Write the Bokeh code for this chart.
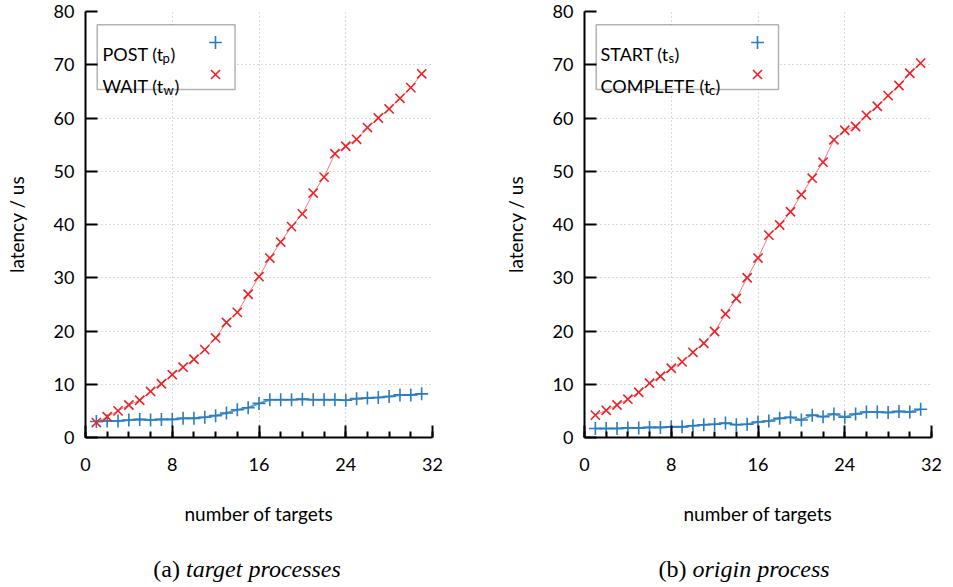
from bokeh.plotting import figure
from bokeh.layouts import row, column
from bokeh.models import (FixedTicker, Label, BoxAnnotation, Legend, LegendItem,
                          Range1d, ColumnDataSource)
from bokeh.embed import file_html
from bokeh.resources import INLINE

# ---------------- data ----------------
targets = list(range(1, 32))

post_tp = [3.0, 3.1, 3.1, 3.3, 3.4, 3.3, 3.4, 3.4, 3.6, 3.6, 3.8, 4.1, 4.6, 5.2, 5.6,
           6.4, 7.1, 7.1, 7.1, 7.2, 7.1, 7.1, 7.1, 7.0, 7.3, 7.4, 7.5, 7.7, 8.0, 8.0, 8.2]
wait_tw = [2.8, 3.9, 5.0, 6.1, 7.0, 8.65, 10.1, 11.8, 13.2, 14.7, 16.5, 18.7, 21.6, 23.5, 26.9,
           30.2, 33.7, 36.7, 39.6, 42.0, 45.9, 48.9, 53.3, 54.7, 56.0, 58.2, 60.0, 61.7, 63.7, 65.7, 68.3]

start_ts = [1.7, 1.7, 1.7, 1.8, 1.8, 1.9, 1.9, 2.0, 2.0, 2.2, 2.4, 2.5, 2.7, 2.4, 2.5,
            2.9, 3.1, 3.6, 3.8, 3.3, 4.2, 3.9, 4.4, 3.8, 4.4, 4.8, 4.8, 4.7, 4.9, 4.8, 5.3]
complete_tc = [4.2, 5.1, 6.1, 7.2, 8.5, 10.2, 11.5, 13.0, 14.2, 16.0, 17.7, 19.9, 23.2, 26.1, 30.0,
               33.7, 38.0, 39.9, 42.4, 45.6, 48.7, 51.7, 55.9, 57.7, 58.4, 60.5, 62.2, 64.2, 66.1, 68.4, 70.3]

x_major = [0, 8, 16, 24, 32]
x_minor = [v for v in range(0, 33, 2)]
y_major = [0, 10, 20, 30, 40, 50, 60, 70, 80]

x_label = "number of targets"
y_label = "latency / us"

BLUE = "#2a7cbf"
RED = "#ec2227"
SANS = "Lato"
SERIF = "Liberation Serif"


def make_panel(s1, s2, names, subs, min_left, min_right,
               name_x, sub_x, close_x, key_x, box_right):
    p = figure(frame_width=347, frame_height=426,
               x_range=Range1d(0, 32), y_range=Range1d(0, 80),
               min_border_left=min_left, min_border_right=min_right,
               min_border_top=11, min_border_bottom=100,
               output_backend="svg", toolbar_location=None)
    p.outline_line_color = None
    p.background_fill_color = "white"
    p.border_fill_color = "white"

    src = ColumnDataSource(dict(x=targets, a=s1, b=s2))

    # grid
    p.xgrid.ticker = FixedTicker(ticks=x_major)
    p.ygrid.ticker = FixedTicker(ticks=y_major)
    for g in (p.xgrid, p.ygrid):
        g.grid_line_color = "#b4b4b4"
        g.grid_line_dash = "1 3"
        g.grid_line_width = 1

    # axes
    p.xaxis.ticker = FixedTicker(ticks=x_major, minor_ticks=x_minor)
    p.yaxis.ticker = FixedTicker(ticks=y_major)
    for ax in (p.xaxis[0], p.yaxis[0]):
        ax.axis_line_width = 2
        ax.axis_line_color = "black"
        ax.major_tick_in = 12
        ax.major_tick_out = 0
        ax.major_tick_line_width = 2
        ax.minor_tick_in = 6
        ax.minor_tick_out = 0
        ax.minor_tick_line_width = 2
        ax.major_label_text_font = SANS
        ax.major_label_text_font_size = "18px"
        ax.major_label_text_color = "black"
        ax.axis_label_text_font = SANS
        ax.axis_label_text_font_size = "19px"
        ax.axis_label_text_font_style = "normal"
        ax.axis_label_text_color = "black"
    p.yaxis.minor_tick_line_color = None
    p.xaxis.major_label_standoff = 20
    p.yaxis.major_label_standoff = 11
    p.xaxis.axis_label = x_label
    p.yaxis.axis_label = y_label
    p.xaxis.axis_label_standoff = 28
    p.yaxis.axis_label_standoff = 23

    # series
    p.line("x", "a", source=src, line_color=BLUE, line_width=2, line_alpha=0.75)
    r1 = p.scatter("x", "a", source=src, marker="cross", size=13,
                   line_color=BLUE, line_width=1.6)
    p.line("x", "b", source=src, line_color=RED, line_width=1, line_alpha=0.6)
    r2 = p.scatter("x", "b", source=src, marker="x", size=13,
                   line_color=RED, line_width=1.6)

    # legend box (white, framed)
    box = BoxAnnotation(left=1.08, right=box_right, top=77.5, bottom=65.36,
                        fill_color="white", fill_alpha=1.0,
                        line_color="black", line_width=1.5, level="underlay")
    p.add_layout(box)

    leg = Legend(items=[LegendItem(label=" ", renderers=[r1]),
                        LegendItem(label=" ", renderers=[r2])],
                 location=(key_x - 16, 347),
                 padding=0, margin=0, spacing=0,
                 glyph_width=32, glyph_height=32, label_height=32,
                 label_width=1, label_standoff=0,
                 label_text_font_size="2px",
                 border_line_alpha=0, background_fill_alpha=0)
    p.add_layout(leg)

    baselines = [383.4, 352.0]
    for i in range(2):
        p.add_layout(Label(x=name_x, y=baselines[i], x_units="screen", y_units="screen",
                           text=names[i], text_font=SANS, text_font_size="18px",
                           text_baseline="alphabetic", text_color="black"))
        p.add_layout(Label(x=sub_x[i], y=baselines[i] - 4, x_units="screen", y_units="screen",
                           text=subs[i], text_font=SANS, text_font_size="13px",
                           text_baseline="alphabetic", text_color="black"))
        p.add_layout(Label(x=close_x[i], y=baselines[i], x_units="screen", y_units="screen",
                           text=")", text_font=SANS, text_font_size="18px",
                           text_baseline="alphabetic", text_color="black"))
    return p


pa = make_panel(post_tp, wait_tw, ["POST (t", "WAIT (t"], ["p", "w"], 85, 44,
                name_x=17, sub_x=[77, 78], close_x=[85, 89], key_x=130, box_right=13.79)
pb = make_panel(start_ts, complete_tc, ["START (t", "COMPLETE (t"], ["s", "c"], 108, 22,
                name_x=16, sub_x=[84, 124.5], close_x=[90, 131], key_x=173, box_right=17.89)

# caption strip below both panels
cap = figure(width=953, height=50, x_range=Range1d(0, 953), y_range=Range1d(0, 50),
             x_axis_type=None, y_axis_type=None, min_border=0,
             output_backend="svg", toolbar_location=None)
cap.outline_line_color = None
cap.xgrid.visible = False
cap.ygrid.visible = False
captions = [("(a) ", "target processes", 185.5), ("(b) ", "origin process", 692)]
for tag, text, split in captions:
    cap.add_layout(Label(x=split, y=19, x_units="screen", y_units="screen",
                         text=tag, text_font=SERIF, text_font_size="24px",
                         text_align="right", text_baseline="alphabetic", text_color="black"))
    cap.add_layout(Label(x=split, y=19, x_units="screen", y_units="screen",
                         text=text, text_font=SERIF, text_font_size="24px",
                         text_font_style="italic",
                         text_align="left", text_baseline="alphabetic", text_color="black"))

layout = column(row(pa, pb, spacing=0), cap, spacing=0)
open("out.html", "w").write(file_html(layout, INLINE))
